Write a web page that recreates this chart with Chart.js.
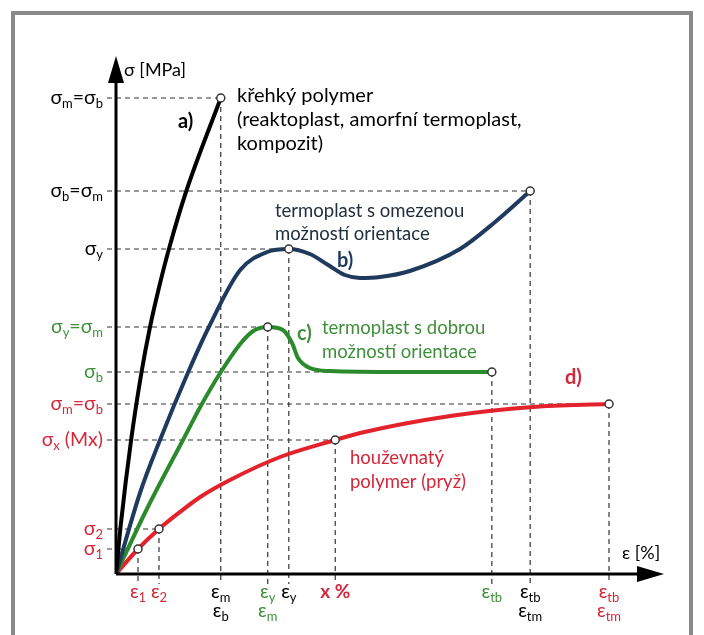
<!DOCTYPE html>
<html>
<head>
<meta charset="utf-8">
<script src="https://cdn.jsdelivr.net/npm/chart.js@4.4.1/dist/chart.umd.min.js"></script>
<style>
  body { margin: 0; background: #fff; }
  canvas { display: block; }
</style>
</head>
<body>
<canvas id="stressChart" width="704" height="635"></canvas>
<script>
// curve colours
const BLACK = '#000000';
const BLUE = '#1f3a5c';
const GREEN = '#2b8a2b';
const RED = '#e3222c';
const GREEN_TXT = '#3f8f3a';
const RED_TXT = '#d3283a';

// a) brittle polymer
const blackX = [0, 0.9, 2.8, 4.7, 6.3, 7.9, 9.8, 12.9, 19.4];
const blackY = [0, 10, 26.8, 40.2, 49.4, 57, 65, 76.2, 95.2];
// b) thermoplast, limited orientation
const blueX = [0, 4.44, 8.15, 13.3, 17.2, 23, 28, 32, 35.9, 39.3, 42.4, 45.2, 48.9, 54.4, 63.7, 70.2, 76.7];
const blueY = [0, 16.2, 26.8, 40.2, 49.4, 60.8, 64.4, 65, 64, 61.8, 59.8, 59.2, 59.4, 60.6, 65, 70.4, 76.6];
// c) thermoplast, good orientation
const greenX = [0, 5.9, 12.4, 15.8, 19.3, 23, 25.4, 28.1, 30.9, 32.6, 33.7, 35.9, 39.6, 52.6, 69.6];
const greenY = [0, 13.4, 26.8, 33.8, 40.2, 46, 48.6, 49.4, 48.8, 46.2, 43.2, 41.2, 40.6, 40.4, 40.4];
// d) tough polymer (rubber)
const redX = [0, 4.07, 7.96, 11.85, 15.6, 21.1, 30.4, 40.6, 45.2, 61.9, 77.2, 91.3];
const redY = [0, 5, 9, 12.4, 15.4, 18.8, 23.4, 26.8, 28.2, 31.6, 33.4, 34];

// open circles
const markerX = [19.4, 32, 76.7, 28.1, 69.6, 4.07, 7.96, 40.6, 91.3];
const markerY = [95.2, 65, 76.6, 49.4, 40.4, 5, 9, 26.8, 34];

// dashed guide lines (x, y)
const guideX = [19.4, 76.7, 32, 28.1, 69.6, 91.3, 40.6, 7.96, 4.07];
const guideY = [95.2, 76.6, 65, 49.4, 40.4, 34, 26.8, 9, 5];

// axis labels
const yTickValues = [95.2, 76.6, 65, 49.4, 40.4, 34, 26.8, 9, 5];
const yTickLabels = ['σ_m=σ_b', 'σ_b=σ_m', 'σ_y', 'σ_y=σ_m', 'σ_b', 'σ_m=σ_b', 'σ_x (Mx)', 'σ_2', 'σ_1'];
const yTickColors = [BLACK, BLACK, BLACK, GREEN_TXT, GREEN_TXT, RED_TXT, RED_TXT, RED_TXT, RED_TXT];

const xTickValues = [4.07, 7.96, 19.4, 28.1, 32, 40.6, 69.6, 76.7, 91.3];
const xTickLabels = [['ε_1'], ['ε_2'], ['ε_m', 'ε_b'], ['ε_y', 'ε_m'], ['ε_y'], ['x %'], ['ε_tb'], ['ε_tb', 'ε_tm'], ['ε_tb', 'ε_tm']];
const xTickColors = [RED_TXT, RED_TXT, BLACK, GREEN_TXT, BLACK, RED_TXT, GREEN_TXT, BLACK, RED_TXT];

const FONT = 'Lato, "Noto Sans", sans-serif';

function toPoints(xs, ys) {
    return xs.map((x, i) => ({ x: x, y: ys[i] }));
}

function parseRich(text) {
    const parts = [];
    let i = 0, buf = '';
    while (i < text.length) {
        if (text[i] === '_') {
            if (buf) parts.push({ t: buf, sub: false });
            buf = '';
            i++;
            let s = '';
            while (i < text.length && /[a-z0-9]/.test(text[i])) s += text[i++];
            parts.push({ t: s, sub: true });
        } else {
            buf += text[i++];
        }
    }
    if (buf) parts.push({ t: buf, sub: false });
    return parts;
}

// text with subscripts
function drawRich(ctx, text, x, y, align, color, size, bold) {
    const parts = parseRich(text);
    const weight = bold ? 'bold ' : '';
    const subSize = Math.round(size * 0.68);
    let total = 0;
    parts.forEach(p => {
        ctx.font = weight + (p.sub ? subSize : size) + 'px ' + FONT;
        p.w = ctx.measureText(p.t).width;
        total += p.w;
    });
    let cx = x;
    if (align === 'right') cx = x - total;
    if (align === 'center') cx = x - total / 2;
    ctx.fillStyle = color;
    ctx.textAlign = 'left';
    ctx.textBaseline = 'middle';
    parts.forEach(p => {
        ctx.font = weight + (p.sub ? subSize : size) + 'px ' + FONT;
        ctx.fillText(p.t, cx, p.sub ? y + size * 0.28 : y);
        cx += p.w;
    });
}

function drawText(ctx, text, x, y, color, size, bold) {
    ctx.font = (bold ? 'bold ' : '') + size + 'px ' + FONT;
    ctx.fillStyle = color;
    ctx.textAlign = 'left';
    ctx.textBaseline = 'middle';
    ctx.fillText(text, x, y);
}

const guidesPlugin = {
    id: 'guides',
    beforeDatasetsDraw(chart) {
        const ctx = chart.ctx;
        const xs = chart.scales.x, ys = chart.scales.y;
        const x0 = xs.getPixelForValue(0), y0 = ys.getPixelForValue(0);
        ctx.save();
        ctx.strokeStyle = '#333';
        ctx.lineWidth = 1.2;
        ctx.setLineDash([5, 4]);
        guideX.forEach((gx, i) => {
            const px = xs.getPixelForValue(gx);
            const py = ys.getPixelForValue(guideY[i]);
            ctx.beginPath();
            ctx.moveTo(x0 - 9, py);
            ctx.lineTo(px, py);
            ctx.moveTo(px, py);
            ctx.lineTo(px, y0 + 10);
            ctx.stroke();
        });
        ctx.restore();
    },
    afterDatasetsDraw(chart) {
        const ctx = chart.ctx;
        const xs = chart.scales.x, ys = chart.scales.y;
        const x0 = xs.getPixelForValue(0), y0 = ys.getPixelForValue(0);
        ctx.save();

        // frame
        ctx.strokeStyle = '#8a8a8a';
        ctx.lineWidth = 4;
        ctx.strokeRect(13, 13, 678, 640);

        // axes with arrows
        ctx.strokeStyle = '#000';
        ctx.fillStyle = '#000';
        ctx.lineWidth = 3;
        ctx.beginPath();
        ctx.moveTo(x0, y0);
        ctx.lineTo(x0, 80);
        ctx.moveTo(x0, y0);
        ctx.lineTo(640, y0);
        ctx.stroke();
        ctx.beginPath();
        ctx.moveTo(x0, 56);
        ctx.lineTo(x0 - 8, 83);
        ctx.lineTo(x0 + 8, 83);
        ctx.closePath();
        ctx.fill();
        ctx.beginPath();
        ctx.moveTo(664, y0);
        ctx.lineTo(637, y0 - 8);
        ctx.lineTo(637, y0 + 8);
        ctx.closePath();
        ctx.fill();

        drawText(ctx, 'σ [MPa]', 124, 70, '#000', 18, false);
        drawText(ctx, 'ε [%]', 622, 553, '#000', 18, false);

        // y labels
        yTickValues.forEach((v, i) => {
            drawRich(ctx, yTickLabels[i], 103, ys.getPixelForValue(v), 'right', yTickColors[i], 19.5, false);
        });
        // x labels
        xTickValues.forEach((v, i) => {
            const px = xs.getPixelForValue(v);
            xTickLabels[i].forEach((lab, j) => {
                const bold = lab === 'x %';
                drawRich(ctx, lab, px, y0 + 18 + j * 19, 'center', xTickColors[i], 19, bold);
            });
        });

        // annotations
        drawText(ctx, 'a)', 178, 122, '#000', 20, true);
        drawText(ctx, 'křehký polymer', 237, 96, '#000', 20, false);
        drawText(ctx, '(reaktoplast, amorfní termoplast,', 237, 120, '#000', 20, false);
        drawText(ctx, 'kompozit)', 237, 144, '#000', 20, false);

        drawText(ctx, 'termoplast s omezenou', 275, 211, '#222f3e', 18.5, false);
        drawText(ctx, 'možností orientace', 275, 234, '#222f3e', 18.5, false);
        drawText(ctx, 'b)', 337, 261, BLUE, 20, true);

        drawText(ctx, 'c)', 297, 334, GREEN_TXT, 20, true);
        drawText(ctx, 'termoplast s dobrou', 322, 328, GREEN_TXT, 18.5, false);
        drawText(ctx, 'možností orientace', 322, 352, GREEN_TXT, 18.5, false);

        drawText(ctx, 'd)', 565, 378, RED_TXT, 20, true);
        drawText(ctx, 'houževnatý', 350, 458, RED_TXT, 18.5, false);
        drawText(ctx, 'polymer (pryž)', 350, 482, RED_TXT, 18.5, false);

        ctx.restore();
    }
};

function curve(label, xs, ys, color) {
    return {
        label: label,
        data: toPoints(xs, ys),
        showLine: true,
        borderColor: color,
        borderWidth: 4,
        pointRadius: 0,
        cubicInterpolationMode: 'monotone',
        fill: false,
        order: 2
    };
}

const stressChart = new Chart(document.getElementById('stressChart').getContext('2d'), {
    type: 'scatter',
    data: {
        datasets: [
            curve('a)', blackX, blackY, BLACK),
            curve('b)', blueX, blueY, BLUE),
            curve('c)', greenX, greenY, GREEN),
            curve('d)', redX, redY, RED),
            {
                label: 'body',
                data: toPoints(markerX, markerY),
                pointRadius: 4,
                pointBackgroundColor: '#fff',
                pointBorderColor: '#333',
                pointBorderWidth: 1.5,
                clip: false,
                order: 1
            }
        ]
    },
    options: {
        responsive: false,
        animation: false,
        devicePixelRatio: 1,
        layout: { padding: { left: 116, right: 48, top: 74, bottom: 61 } },
        plugins: { legend: { display: false }, tooltip: { enabled: false } },
        scales: {
            x: { type: 'linear', min: 0, max: 100, display: false },
            y: { type: 'linear', min: 0, max: 100, display: false }
        }
    },
    plugins: [guidesPlugin]
});
</script>
</body>
</html>
